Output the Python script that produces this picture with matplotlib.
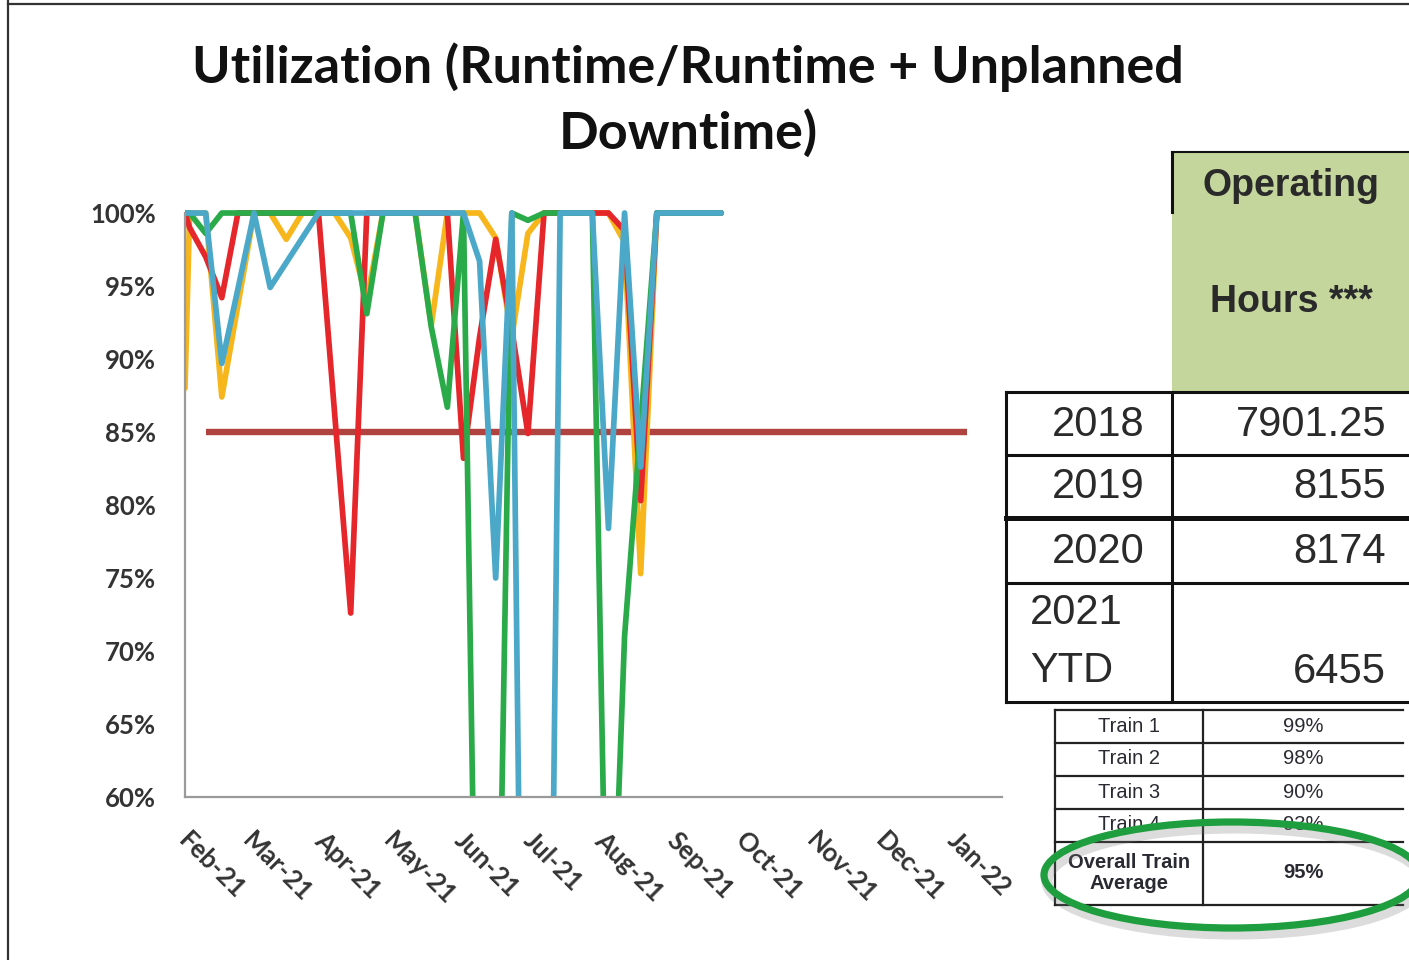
import matplotlib
matplotlib.use("Agg")
import matplotlib.pyplot as plt
import matplotlib.dates as mdates
from matplotlib.patches import Rectangle, Ellipse
from matplotlib.lines import Line2D
from matplotlib.transforms import ScaledTranslation
import pandas as pd

# ---------------- data ----------------
title_lines = ["Utilization (Runtime/Runtime + Unplanned", "Downtime)"]

first_date = ["2021-02-01"]
weekly_dates = [d.strftime("%Y-%m-%d") for d in pd.date_range("2021-02-03", periods=34, freq="7D")]
dates = pd.to_datetime(first_date + weekly_dates)

train1 = [88, 100, 100, 87.4, 93.7, 100, 100, 98.2, 100, 100, 100, 98.3, 94, 100, 100, 100,
          92.3, 100, 100, 100, 98.3, 91.5, 98.6, 100, 100, 100, 100, 100, 98, 75.3,
          100, 100, 100, 100, 100]
train2 = [100, 99, 97, 94.2, 100, 100, 100, 100, 100, 100, 86.3, 72.6, 100, 100, 100, 100,
          100, 100, 83.2, 91.5, 98.2, 92, 84.9, 100, 100, 100, 100, 100, 98.8, 80.3,
          100, 100, 100, 100, 100]
train3 = [100, 100, 98.6, 100, 100, 100, 100, 100, 100, 100, 100, 100, 93.1, 100, 100, 100,
          92.2, 86.7, 100, 30, 35, 100, 99.5, 100, 100, 100, 100, 41, 71, 85.5,
          100, 100, 100, 100, 100]
train4 = [100, 100, 100, 89.7, 94.8, 100, 94.9, 96.6, 98.3, 100, 100, 100, 100, 100, 100, 100,
          100, 100, 100, 96.7, 75, 100, 5, 0, 100, 100, 100, 78.4, 100, 82.6,
          100, 100, 100, 100, 100]

target_dates = pd.to_datetime(["2021-02-10", "2022-01-07"])
target_values = [85, 85]

y_ticks = [60, 65, 70, 75, 80, 85, 90, 95, 100]
month_ticks = pd.to_datetime(["2021-02-01", "2021-03-01", "2021-04-01", "2021-05-01", "2021-06-01",
                              "2021-07-01", "2021-08-01", "2021-09-01", "2021-10-01", "2021-11-01",
                              "2021-12-01", "2022-01-01"])
month_labels = ["Feb-21", "Mar-21", "Apr-21", "May-21", "Jun-21", "Jul-21", "Aug-21", "Sep-21",
                "Oct-21", "Nov-21", "Dec-21", "Jan-22"]
x_start = pd.Timestamp("2021-02-01")
x_end = pd.Timestamp("2022-01-22")

hours_header = ["Operating", "Hours ***"]
years = ["2018", "2019", "2020", "2021\nYTD"]
hours = ["7901.25", "8155", "8174", "6455"]
trains = ["Train 1", "Train 2", "Train 3", "Train 4", "Overall Train\nAverage"]
train_util = ["99%", "98%", "90%", "93%", "95%"]

# ---------------- figure ----------------
W, H = 1409, 960
fig = plt.figure(figsize=(W / 100, H / 100), dpi=100)
fig.patch.set_facecolor("white")

def fx(px):
    return px / W

def fy(py):
    return 1 - py / H

ax_l, ax_r, ax_t, ax_b = 185, 1002, 213, 797
ax = fig.add_axes([fx(ax_l), fy(ax_b), fx(ax_r - ax_l), (ax_b - ax_t) / H])
ax.set_facecolor("none")

colors = ["#F6B61C", "#E5262B", "#2BAA4A", "#4BA8C9"]
series = [train1, train2, train3, train4]

ax.set_xlim(x_start, x_end)
ax.set_ylim(60, 100)

clip = Rectangle((mdates.date2num(x_start), 60),
                 mdates.date2num(x_end) - mdates.date2num(x_start), 45,
                 transform=ax.transData)

ax.plot(target_dates, target_values, color="#B0433F", lw=4.6,
        solid_capstyle="butt", zorder=1)
for vals, c in zip(series, colors):
    ln, = ax.plot(dates, vals, color=c, lw=4.1, solid_joinstyle="round",
                  solid_capstyle="round", zorder=2)
    ln.set_clip_path(clip)

for s in ["top", "right"]:
    ax.spines[s].set_visible(False)
for s in ["left", "bottom"]:
    ax.spines[s].set_color("#9a9a9a")
    ax.spines[s].set_linewidth(1.6)

ax.set_yticks(y_ticks)
ax.set_yticklabels([f"{v}%" for v in y_ticks], fontfamily="Lato", fontweight="bold",
                   fontsize=18.5, color="#333333")
ax.tick_params(axis="y", length=0, pad=21)

ax.set_xticks(month_ticks)
ax.set_xticklabels(month_labels, fontfamily="Lato", fontweight="bold", fontsize=18.5,
                   color="#333333", rotation=-45, ha="left", va="top",
                   rotation_mode="anchor")
ax.tick_params(axis="x", length=0, pad=22)
shift = ScaledTranslation(6 / 100, 0, fig.dpi_scale_trans)
for lab in ax.get_xticklabels():
    lab.set_transform(lab.get_transform() + shift)

# ---------------- title ----------------
for line, yy in zip(title_lines, [67, 133]):
    fig.text(fx(688), fy(yy), line, ha="center", va="center", fontfamily="Lato",
             fontweight="bold", fontsize=37.5, color="#111111")

# ---------------- operating hours table ----------------
fig.add_artist(Rectangle((fx(1172), fy(392)), fx(1409 - 1172), (392 - 152) / H,
                         transform=fig.transFigure, facecolor="#C4D69C", edgecolor="none",
                         zorder=1))

def hline(x0, x1, y, lw=2.2, color="#111111"):
    fig.add_artist(Line2D([fx(x0), fx(x1)], [fy(y), fy(y)], transform=fig.transFigure,
                          color=color, lw=lw, zorder=3))

def vline(x, y0, y1, lw=2.2, color="#111111"):
    fig.add_artist(Line2D([fx(x), fx(x)], [fy(y0), fy(y1)], transform=fig.transFigure,
                          color=color, lw=lw, zorder=3))

hline(1172, 1409, 152, lw=1.5)
vline(1172, 152, 212, lw=2.2)
for yy, lw in zip([392, 455, 518, 583, 702], [2.2, 2.2, 3.6, 2.2, 2.2]):
    hline(1006, 1409, yy, lw=lw)
vline(1006, 392, 702)
vline(1172, 392, 702)

fig.text(fx(1291), fy(186), hours_header[0], ha="center", va="center",
         fontfamily="Liberation Sans", fontweight="bold", fontsize=27, color="#2a2a2a")
fig.text(fx(1291), fy(302), hours_header[1], ha="center", va="center",
         fontfamily="Liberation Sans", fontweight="bold", fontsize=27, color="#2a2a2a")

row_y = [425, 487, 552, 642]
for yr, hv, yy in zip(years, hours, row_y):
    if "\n" in yr:
        fig.text(fx(1030), fy(yy), yr, ha="left", va="center", fontfamily="Liberation Sans",
                 fontsize=30, color="#2a2a2a", linespacing=1.55)
        fig.text(fx(1386), fy(672), hv, ha="right", va="center", fontfamily="Liberation Sans",
                 fontsize=30, color="#2a2a2a")
    else:
        fig.text(fx(1145), fy(yy), yr, ha="right", va="center", fontfamily="Liberation Sans",
                 fontsize=30, color="#2a2a2a")
        fig.text(fx(1386), fy(yy), hv, ha="right", va="center", fontfamily="Liberation Sans",
                 fontsize=30, color="#2a2a2a")

# ---------------- train table ----------------
for yy in [710, 743, 776, 809, 842, 905]:
    hline(1055, 1403, yy, lw=1.6, color="#222222")
vline(1055, 710, 905, lw=1.6, color="#222222")
vline(1203, 710, 905, lw=1.6, color="#222222")

train_y = [727, 759, 792, 825, 873]
for i, (tn, tv, yy) in enumerate(zip(trains, train_util, train_y)):
    wt = "bold" if i == len(trains) - 1 else "normal"
    fig.text(fx(1129), fy(yy), tn, ha="center", va="center", fontfamily="Liberation Sans",
             fontsize=14.5, fontweight=wt, color="#2a2a33", linespacing=1.15)
    fig.text(fx(1303), fy(yy), tv, ha="center", va="center", fontfamily="Liberation Sans",
             fontsize=14.5, fontweight=wt, color="#2a2a33")

# highlight ellipse
fig.add_artist(Ellipse((fx(1235), fy(881)), fx(376), 106 / H, transform=fig.transFigure,
                       facecolor="none", edgecolor="#777777", lw=8, alpha=0.25, zorder=4))
fig.add_artist(Ellipse((fx(1232), fy(875)), fx(376), 106 / H, transform=fig.transFigure,
                       facecolor="none", edgecolor="#1E9E3E", lw=5.2, zorder=5))

# slide frame
vline(8, 0, 960, lw=1.6, color="#333333")
hline(8, 1409, 4, lw=1.6, color="#333333")

fig.savefig("out.png", dpi=100, facecolor="white")
